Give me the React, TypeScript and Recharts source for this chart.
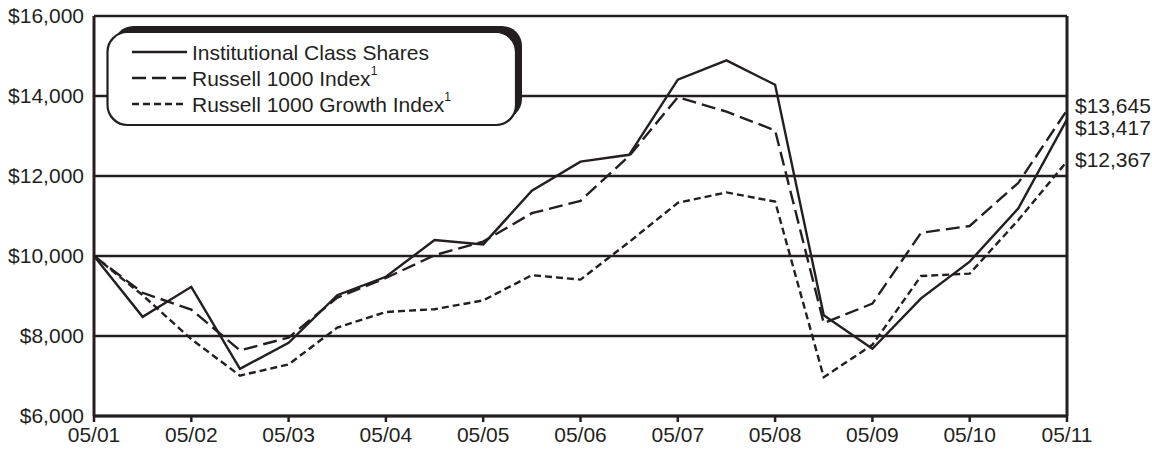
import React from "react";
import { LineChart, Line, XAxis, YAxis, CartesianGrid, ReferenceLine } from "recharts";

const INK = "#231f20";
const FONT = "'Liberation Sans', Arial, Helvetica, sans-serif";

// semiannual periods, May 2001 through May 2011
const periods = [
  "05/01", "11/01", "05/02", "11/02", "05/03", "11/03", "05/04", "11/04",
  "05/05", "11/05", "05/06", "11/06", "05/07", "11/07", "05/08", "11/08",
  "05/09", "11/09", "05/10", "11/10", "05/11",
];

const institutional = [
  10000, 8480, 9230, 7180, 7830, 9020, 9480, 10400, 10290, 11630, 12360,
  12530, 14410, 14890, 14280, 8520, 7680, 8940, 9860, 11190, 13417,
];

const russell1000 = [
  10000, 9080, 8660, 7640, 7960, 8960, 9450, 10020, 10360, 11070, 11380,
  12500, 13970, 13610, 13140, 8320, 8810, 10580, 10750, 11830, 13645,
];

const russell1000Growth = [
  10000, 9020, 7920, 7010, 7290, 8210, 8600, 8670, 8890, 9520, 9410,
  10350, 11330, 11590, 11360, 6970, 7780, 9500, 9560, 10900, 12367,
];

const yTicks = [6000, 8000, 10000, 12000, 14000, 16000];

const rows = periods.map((period, i) => ({
  period,
  institutional: institutional[i],
  russell1000: russell1000[i],
  russell1000Growth: russell1000Growth[i],
}));

const money = (v: number) => "$" + v.toLocaleString("en-US");

// value tag to the right of the final point only
const endLabel = (dy: number) => (props: any) => {
  const { x, y, index, value } = props;
  if (index !== periods.length - 1) return null;
  return (
    <text x={x + 8} y={y + dy} dominantBaseline="central" fontSize={21} fontFamily={FONT} fill={INK}>
      {money(value)}
    </text>
  );
};

const LegendBox = () => {
  const items = [
    { label: "Institutional Class Shares", dash: undefined, sup: false },
    { label: "Russell 1000 Index", dash: "14 6", sup: true },
    { label: "Russell 1000 Growth Index", dash: "7 4", sup: true },
  ];
  return (
    <svg
      width={540}
      height={140}
      style={{ position: "absolute", left: 0, top: 0, pointerEvents: "none" }}
    >
      <rect x={113.5} y={26} width={408.5} height={93} rx={20} fill={INK} />
      <rect x={107.5} y={32} width={408.5} height={93} rx={20} fill="#fff" stroke={INK} strokeWidth={2.2} />
      {items.map((it, i) => {
        const y = 52 + i * 26;
        return (
          <g key={it.label}>
            <line x1={132} x2={187} y1={y} y2={y} stroke={INK} strokeWidth={2.5} strokeDasharray={it.dash} />
            <text x={192} y={y} dominantBaseline="central" fontSize={21} fontFamily={FONT} fill={INK}>
              {it.label}
              {it.sup && (
                <tspan fontSize={12} dy={-7}>
                  1
                </tspan>
              )}
            </text>
          </g>
        );
      })}
    </svg>
  );
};

export default function App() {
  return (
    <div style={{ position: "absolute", left: 0, top: 0, width: 1152, height: 450, background: "#fff" }}>
      <LineChart
        width={1152}
        height={450}
        data={rows}
        margin={{ top: 16, right: 85, left: 0, bottom: 0 }}
        style={{ fontFamily: FONT }}
      >
        <CartesianGrid vertical={false} stroke={INK} strokeWidth={2.5} />
        <XAxis
          dataKey="period"
          interval={1}
          height={34}
          tickSize={6}
          tickMargin={5}
          axisLine={{ stroke: INK, strokeWidth: 3 }}
          tickLine={{ stroke: INK, strokeWidth: 2.5 }}
          tick={{ fill: INK, fontSize: 21 }}
        />
        <YAxis
          domain={[6000, 16000]}
          ticks={yTicks}
          tickFormatter={money}
          width={94}
          tickSize={0}
          tickMargin={10}
          axisLine={{ stroke: INK, strokeWidth: 3 }}
          tick={{ fill: INK, fontSize: 21 }}
        />
        <ReferenceLine x={periods[periods.length - 1]} stroke={INK} strokeWidth={3} />
        <Line
          dataKey="russell1000Growth"
          stroke={INK}
          strokeWidth={2.4}
          strokeDasharray="7 4"
          dot={false}
          isAnimationActive={false}
          label={endLabel(-1.5)}
        />
        <Line
          dataKey="russell1000"
          stroke={INK}
          strokeWidth={2.4}
          strokeDasharray="14 6"
          dot={false}
          isAnimationActive={false}
          label={endLabel(-4.5)}
        />
        <Line
          dataKey="institutional"
          stroke={INK}
          strokeWidth={2.4}
          dot={false}
          isAnimationActive={false}
          label={endLabel(8.5)}
        />
      </LineChart>
      <LegendBox />
    </div>
  );
}
